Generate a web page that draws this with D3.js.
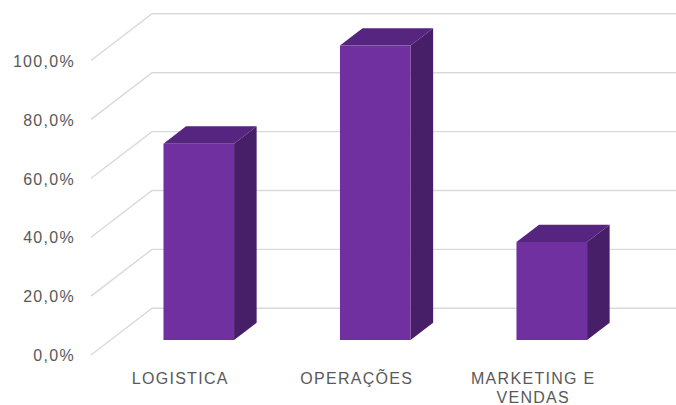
<!DOCTYPE html>
<html>
<head>
<meta charset="utf-8">
<script src="https://cdn.jsdelivr.net/npm/d3@7"></script>
<style>
  body { margin: 0; background: #fff; }
  svg { display: block; }
  text { font-family: "Liberation Sans", Arial, sans-serif; font-size: 16px; fill: #595959; letter-spacing: 1.3px; }
</style>
</head>
<body>
<svg id="chart" width="676" height="405"></svg>
<script>
var categories = ["LOGISTICA", "OPERAÇÕES", "MARKETING E VENDAS"];
var values = [0.667, 1.0, 0.333];
var yTicks = [0, 0.2, 0.4, 0.6, 0.8, 1.0];

var width = 676, height = 405;
// oblique 3d: depth vector from front wall to back wall
var depthX = 61, depthY = -46.7;
var barFront = 0.32, barBack = 0.69;

var svg = d3.select("#chart");

var x = d3.scaleBand().domain(categories).range([91, 620.5]).paddingInner(0.6).paddingOuter(0.3);
var y = d3.scaleLinear().domain([0, 1]).range([355, 60.5]);

var fmt = function(d) { return d3.format(".1%")(d).replace(".", ","); };

function shift(px, py, d) { return [px + depthX * d, py + depthY * d]; }

// gridlines: diagonal on the side wall, then along the back wall
var grid = svg.append("g").attr("fill", "none").attr("stroke", "#d9d9d9").attr("stroke-width", 1.4);
grid.selectAll("path").data(yTicks).enter().append("path")
  .attr("d", function(d) {
    var a = [x.range()[0], y(d)];
    var b = shift(a[0], a[1], 1);
    var c = shift(x.range()[1], y(d), 1);
    return d3.line()([a, b, c]);
  });

// y axis labels
var yAxis = d3.axisLeft(y).tickValues(yTicks).tickFormat(fmt).tickSize(0).tickPadding(16);
var ya = svg.append("g").attr("transform", "translate(" + x.range()[0] + ",0)").call(yAxis);
ya.select(".domain").remove();
ya.selectAll("text").attr("font-size", null).attr("font-family", null).attr("fill", "#595959").attr("dy", "0.36em");

// bars
var colFront = "#7030a0", colTop = "#55257f", colSide = "#471e68";
var bars = svg.append("g").selectAll("g").data(categories).enter().append("g");

bars.each(function(c, i) {
  var g = d3.select(this);
  var x0 = x(c), x1 = x(c) + x.bandwidth();
  var yb = y(0), yt = y(values[i]);
  var ftl = shift(x0, yt, barFront), ftr = shift(x1, yt, barFront);
  var fbl = shift(x0, yb, barFront), fbr = shift(x1, yb, barFront);
  var btl = shift(x0, yt, barBack), btr = shift(x1, yt, barBack);
  var bbr = shift(x1, yb, barBack);
  g.append("path").attr("fill", colSide).attr("d", d3.line()([ftr, btr, bbr, fbr]) + "Z");
  g.append("path").attr("fill", colTop).attr("d", d3.line()([ftl, btl, btr, ftr]) + "Z");
  g.append("path").attr("fill", colFront).attr("d", d3.line()([ftl, ftr, fbr, fbl]) + "Z");
});

// x axis labels, wrapped to the band step
var xAxis = d3.axisBottom(x).tickSize(0).tickPadding(0);
var xa = svg.append("g").attr("transform", "translate(0," + y(0) + ")").call(xAxis);
xa.select(".domain").remove();
xa.selectAll("text").attr("font-size", null).attr("font-family", null).attr("fill", "#595959")
  .attr("y", 0).attr("dy", null)
  .each(function(t) {
    var el = d3.select(this);
    var words = t.split(" ");
    el.text(null);
    var lines = [], cur = [];
    words.forEach(function(w) {
      var test = cur.concat([w]).join(" ");
      el.text(test);
      if (this && el.node().getComputedTextLength() > x.step() * 0.85 && cur.length) {
        lines.push(cur.join(" "));
        cur = [w];
      } else {
        cur.push(w);
      }
    }, this);
    lines.push(cur.join(" "));
    el.text(null);
    lines.forEach(function(l, k) {
      el.append("tspan").attr("x", 1).attr("y", 29 + k * 19).text(l);
    });
  });
</script>
</body>
</html>
